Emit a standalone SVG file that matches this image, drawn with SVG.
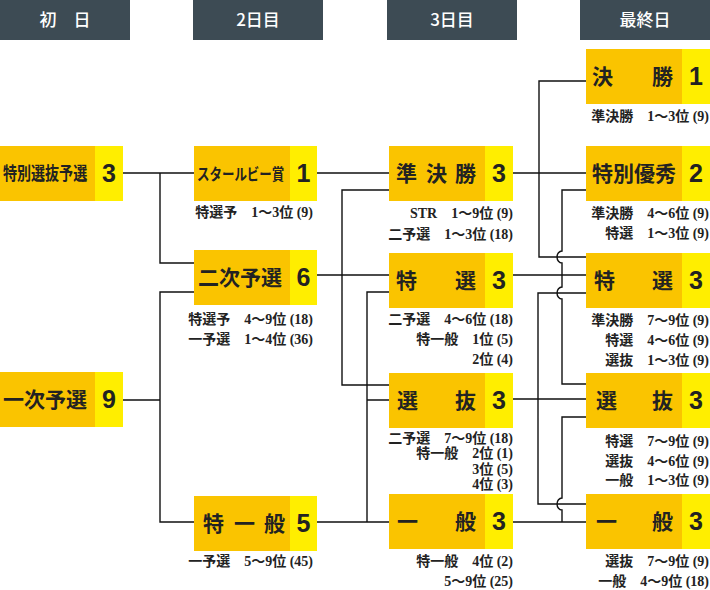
<svg xmlns="http://www.w3.org/2000/svg" width="710" height="590" viewBox="0 0 710 590">
<style>
.hd{fill:#3d4b54}
.ht{fill:#fff;font-family:"Noto Sans CJK JP",sans-serif;font-size:17px;font-weight:500;text-anchor:middle}
.or{fill:#fac400}
.ye{fill:#ffee00}
.nt{fill:#222;font-family:"Noto Sans CJK JP",sans-serif;font-size:21px;font-weight:700}
.nm{fill:#222;font-family:"Liberation Sans",Arial,sans-serif;font-size:25px;font-weight:700;text-anchor:middle}
.lb{fill:#222;font-family:"Liberation Serif","Noto Sans CJK JP",serif;font-size:14px;font-weight:700;text-anchor:end}
.cn{fill:none;stroke:#111;stroke-width:1.4}
</style>
<rect width="710" height="590" fill="#fff"/>
<g id="headers">
<rect class="hd" x="0" y="0" width="130" height="40"/><text class="ht" x="65" y="26">初　日</text>
<rect class="hd" x="193" y="0" width="130" height="40"/><text class="ht" x="258" y="26">2日目</text>
<rect class="hd" x="387" y="0" width="130" height="40"/><text class="ht" x="452" y="26">3日目</text>
<rect class="hd" x="580" y="0" width="130" height="40"/><text class="ht" x="645" y="26">最終日</text>
</g>
<g id="connectors">
<path class="cn" d="M123,173H194M160,173V263H194M123,400H160M194,292H160V522H194"/>
<path class="cn" d="M317,173H389M317,275H389M389,190H342V385H389M317,522H389M389,292H367V522M367,400H389"/>
<path class="cn" d="M513,173H586M586,81H539V257H586M513,275H586M586,190H562V251A5,6 0 0 0 562,263V287A5,6 0 0 0 562,299V384H586M513,399H586M586,293H538V504H586M513,522H586M586,417H562V498A5,6 0 0 0 562,510V522"/>
</g>
<g id="n-tokusen-yosen">
<rect class="or" x="0" y="146" width="95" height="55"/><rect class="ye" x="95" y="146" width="28" height="55"/>
<text class="nt" transform="matrix(0.78 0 0 1 3 180)" x="0" y="0" style="font-size:18px">特別選抜予選</text>
<text class="nm" x="109" y="182">3</text>
</g>
<g id="n-ichiji-yosen">
<rect class="or" x="0" y="372" width="95" height="55"/><rect class="ye" x="95" y="372" width="28" height="55"/>
<text class="nt" x="3" y="407">一次予選</text>
<text class="nm" x="109" y="408">9</text>
</g>
<g id="n-star-ruby">
<rect class="or" x="194" y="146" width="96" height="55"/><rect class="ye" x="290" y="146" width="27" height="55"/>
<text class="nt" transform="matrix(0.78 0 0 1 197 180)" x="0" y="0" style="font-size:16px">スタールビー賞</text>
<text class="nm" x="303.5" y="182">1</text>
<text class="lb" x="313" y="217">特選予　1〜3位 (9)</text>
</g>
<g id="n-niji-yosen">
<rect class="or" x="194" y="250" width="96" height="55"/><rect class="ye" x="290" y="250" width="27" height="55"/>
<text class="nt" x="198" y="285">二次予選</text>
<text class="nm" x="303.5" y="286">6</text>
<text class="lb" x="313" y="324">特選予　4〜9位 (18)</text>
<text class="lb" x="313" y="344">一予選　1〜4位 (36)</text>
</g>
<g id="n-toku-ippan">
<rect class="or" x="194" y="496" width="96" height="55"/><rect class="ye" x="290" y="496" width="27" height="55"/>
<text class="nt" x="203 234 264" y="531">特一般</text>
<text class="nm" x="303.5" y="532">5</text>
<text class="lb" x="313" y="566">一予選　5〜9位 (45)</text>
</g>
<g id="n-jun-kessho">
<rect class="or" x="389" y="146" width="96" height="55"/><rect class="ye" x="485" y="146" width="28" height="55"/>
<text class="nt" x="396 426 455" y="181">準決勝</text>
<text class="nm" x="499" y="182">3</text>
<text class="lb" x="513" y="218">STR　1〜9位 (9)</text>
<text class="lb" x="513" y="239">二予選　1〜3位 (18)</text>
</g>
<g id="n-tokusen-3">
<rect class="or" x="389" y="253" width="96" height="55"/><rect class="ye" x="485" y="253" width="28" height="55"/>
<text class="nt" x="396 455" y="288">特選</text>
<text class="nm" x="499" y="289">3</text>
<text class="lb" x="513" y="324">二予選　4〜6位 (18)</text>
<text class="lb" x="513" y="344">特一般　1位 (5)</text>
<text class="lb" x="513" y="364">2位 (4)</text>
</g>
<g id="n-senbatsu-3">
<rect class="or" x="389" y="373" width="96" height="55"/><rect class="ye" x="485" y="373" width="28" height="55"/>
<text class="nt" x="397 455" y="408">選抜</text>
<text class="nm" x="499" y="409">3</text>
<text class="lb" x="513" y="443">二予選　7〜9位 (18)</text>
<text class="lb" x="513" y="458">特一般　2位 (1)</text>
<text class="lb" x="513" y="474">3位 (5)</text>
<text class="lb" x="513" y="489">4位 (3)</text>
</g>
<g id="n-ippan-3">
<rect class="or" x="389" y="494" width="96" height="55"/><rect class="ye" x="485" y="494" width="28" height="55"/>
<text class="nt" x="397 455" y="529">一般</text>
<text class="nm" x="499" y="530">3</text>
<text class="lb" x="513" y="566">特一般　4位 (2)</text>
<text class="lb" x="513" y="586">5〜9位 (25)</text>
</g>
<g id="n-kessho">
<rect class="or" x="586" y="49" width="96" height="55"/><rect class="ye" x="682" y="49" width="28" height="55"/>
<text class="nt" x="592 652" y="84">決勝</text>
<text class="nm" x="696" y="85">1</text>
<text class="lb" x="709" y="121">準決勝　1〜3位 (9)</text>
</g>
<g id="n-tokubetsu-yushu">
<rect class="or" x="586" y="146" width="96" height="55"/><rect class="ye" x="682" y="146" width="28" height="55"/>
<text class="nt" x="592" y="181">特別優秀</text>
<text class="nm" x="696" y="182">2</text>
<text class="lb" x="709" y="218">準決勝　4〜6位 (9)</text>
<text class="lb" x="709" y="238">特選　1〜3位 (9)</text>
</g>
<g id="n-tokusen-f">
<rect class="or" x="586" y="253" width="96" height="55"/><rect class="ye" x="682" y="253" width="28" height="55"/>
<text class="nt" x="594 652" y="288">特選</text>
<text class="nm" x="696" y="289">3</text>
<text class="lb" x="709" y="325">準決勝　7〜9位 (9)</text>
<text class="lb" x="709" y="345">特選　4〜6位 (9)</text>
<text class="lb" x="709" y="365">選抜　1〜3位 (9)</text>
</g>
<g id="n-senbatsu-f">
<rect class="or" x="586" y="373" width="96" height="55"/><rect class="ye" x="682" y="373" width="28" height="55"/>
<text class="nt" x="596 652" y="408">選抜</text>
<text class="nm" x="696" y="409">3</text>
<text class="lb" x="709" y="446">特選　7〜9位 (9)</text>
<text class="lb" x="709" y="466">選抜　4〜6位 (9)</text>
<text class="lb" x="709" y="485">一般　1〜3位 (9)</text>
</g>
<g id="n-ippan-f">
<rect class="or" x="586" y="494" width="96" height="55"/><rect class="ye" x="682" y="494" width="28" height="55"/>
<text class="nt" x="596 652" y="529">一般</text>
<text class="nm" x="696" y="530">3</text>
<text class="lb" x="709" y="566">選抜　7〜9位 (9)</text>
<text class="lb" x="709" y="586">一般　4〜9位 (18)</text>
</g>
</svg>
